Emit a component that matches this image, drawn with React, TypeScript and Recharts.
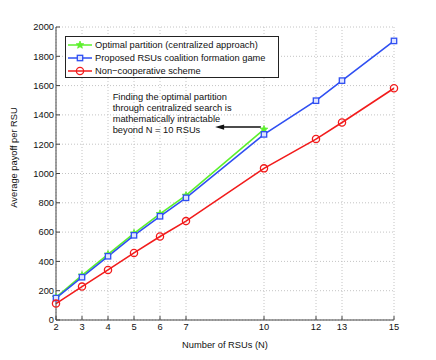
import { LineChart, Line, XAxis, YAxis, CartesianGrid, ReferenceLine, ReferenceDot } from 'recharts'

const rsus = [2, 3, 4, 5, 6, 7, 10, 12, 13, 15]
const optimal = [155, 305, 448, 592, 725, 850, 1301]
const proposed = [150, 292, 435, 578, 708, 834, 1267, 1497, 1634, 1905]
const nonCoop = [112, 228, 342, 458, 570, 675, 1035, 1235, 1348, 1582]
const yTicks = [0, 200, 400, 600, 800, 1000, 1200, 1400, 1600, 1800, 2000]
const noteLines = [
  'Finding the optimal partition',
  'through centralized search is',
  'mathematically intractable',
  'beyond N = 10 RSUs',
]

const FONT = '"Liberation Sans", Arial, Helvetica, sans-serif'
const GREEN = '#5cf02c'
const BLUE = '#2f4ff2'
const RED = '#f21c1c'

const data = rsus.map((n, i) => ({ n, optimal: optimal[i], proposed: proposed[i], nonCoop: nonCoop[i] }))

const series = [
  { key: 'optimal', name: 'Optimal partition (centralized approach)', color: GREEN, marker: 'star' },
  { key: 'proposed', name: 'Proposed RSUs coalition formation game', color: BLUE, marker: 'square' },
  { key: 'nonCoop', name: 'Non\u2212cooperative scheme', color: RED, marker: 'circle' },
]

function Marker({ cx, cy, kind, color }: { cx: number; cy: number; kind: string; color: string }) {
  if (cx == null || cy == null) return null
  if (kind === 'star') {
    const pts: string[] = []
    for (let k = 0; k < 10; k++) {
      const r = k % 2 === 0 ? 4 : 1.7
      const a = -Math.PI / 2 + (k * Math.PI) / 5
      pts.push(`${cx + r * Math.cos(a)},${cy + r * Math.sin(a)}`)
    }
    return <polygon points={pts.join(' ')} fill={color} stroke={color} strokeWidth={0.8} />
  }
  if (kind === 'square') {
    return <rect x={cx - 2.7} y={cy - 2.7} width={5.4} height={5.4} fill="#dfe4ff" stroke={color} strokeWidth={1.3} />
  }
  return <circle cx={cx} cy={cy} r={3.6} fill="none" stroke={color} strokeWidth={1.3} />
}

// legend drawn as an overlay so it doesn't eat into the plot area
function LegendBox() {
  return (
    <div
      style={{
        position: 'absolute',
        left: 65,
        top: 36,
        boxSizing: 'border-box',
        border: '1px solid #222',
        background: '#fff',
        width: 214,
        height: 42,
        padding: '1px 0',
        fontFamily: FONT,
        fontSize: 9.3,
        color: '#111',
      }}
    >
      {series.map((s) => (
        <div key={s.key} style={{ display: 'flex', alignItems: 'center', height: 13 }}>
          <svg width={26} height={10} style={{ marginLeft: 2, marginRight: 1 }}>
            <line x1={0} y1={5} x2={24} y2={5} stroke={s.color} strokeWidth={1.5} />
            <Marker cx={12} cy={5} kind={s.marker} color={s.color} />
          </svg>
          <span>{s.name}</span>
        </div>
      ))}
    </div>
  )
}

function ArrowShape(props: any) {
  const { x1, y1, x2, y2 } = props
  if (x1 == null) return null
  return (
    <g>
      <line x1={x1} y1={y1} x2={x2 + 6} y2={y2} stroke="#111" strokeWidth={1.6} />
      <polygon points={`${x2},${y2} ${x2 + 9},${y2 - 2.6} ${x2 + 9},${y2 + 2.6}`} fill="#111" />
    </g>
  )
}

function NoteShape(props: any) {
  const { cx, cy } = props
  return (
    <text x={cx} y={cy} fontFamily={FONT} fontSize={9.3} fill="#111">
      {noteLines.map((l, i) => (
        <tspan key={i} x={cx} y={cy + i * 11}>
          {l}
        </tspan>
      ))}
    </text>
  )
}

const axisTick = { fontFamily: FONT, fontSize: 9.3, fill: '#111' }

export default function App() {
  return (
    <div style={{ position: 'absolute', left: 0, top: 0, width: 436, height: 360, background: '#fff' }}>
      <LineChart width={436} height={360} data={data} margin={{ top: 27, right: 42, bottom: 0, left: 0 }}>
        <CartesianGrid stroke="#c4c4c4" strokeDasharray="1 2" verticalValues={rsus} horizontalValues={yTicks} />
        <XAxis
          dataKey="n"
          type="number"
          domain={[2, 15]}
          ticks={rsus}
          interval={0}
          height={40}
          stroke="#444"
          tickSize={-4}
          tickMargin={7}
          tick={axisTick}
          label={{ value: 'Number of RSUs (N)', position: 'insideBottom', offset: 12, style: { fontFamily: FONT, fontSize: 9.3, fill: '#111' } }}
        />
        <XAxis xAxisId="top" orientation="top" type="number" domain={[2, 15]} ticks={rsus} interval={0} height={0} stroke="#444" tickSize={-4} tick={false} />
        <YAxis
          type="number"
          domain={[0, 2000]}
          ticks={yTicks}
          interval={0}
          width={56}
          stroke="#444"
          tickSize={-4}
          tickMargin={6}
          tick={axisTick}
          label={{ value: 'Average payoff per RSU', angle: -90, position: 'insideLeft', offset: 14, dy: -16, style: { fontFamily: FONT, fontSize: 9.3, fill: '#111', textAnchor: 'middle' } }}
        />
        <YAxis yAxisId="right" orientation="right" type="number" domain={[0, 2000]} ticks={yTicks} interval={0} width={0} stroke="#444" tickSize={-4} tick={false} />
        {series.map((s) => (
          <Line
            key={s.key}
            dataKey={s.key}
            name={s.name}
            stroke={s.color}
            strokeWidth={1.6}
            isAnimationActive={false}
            dot={(p: any) => <Marker key={`${s.key}-${p.index}`} cx={p.cx} cy={p.cy} kind={s.marker} color={s.color} />}
            activeDot={false}
          />
        ))}
        <ReferenceLine
          segment={[
            { x: 9.88, y: 1317 },
            { x: 8.12, y: 1317 },
          ]}
          shape={ArrowShape}
        />
        <ReferenceDot x={4.18} y={1502} r={0} shape={NoteShape} />
      </LineChart>
      <LegendBox />
    </div>
  )
}
